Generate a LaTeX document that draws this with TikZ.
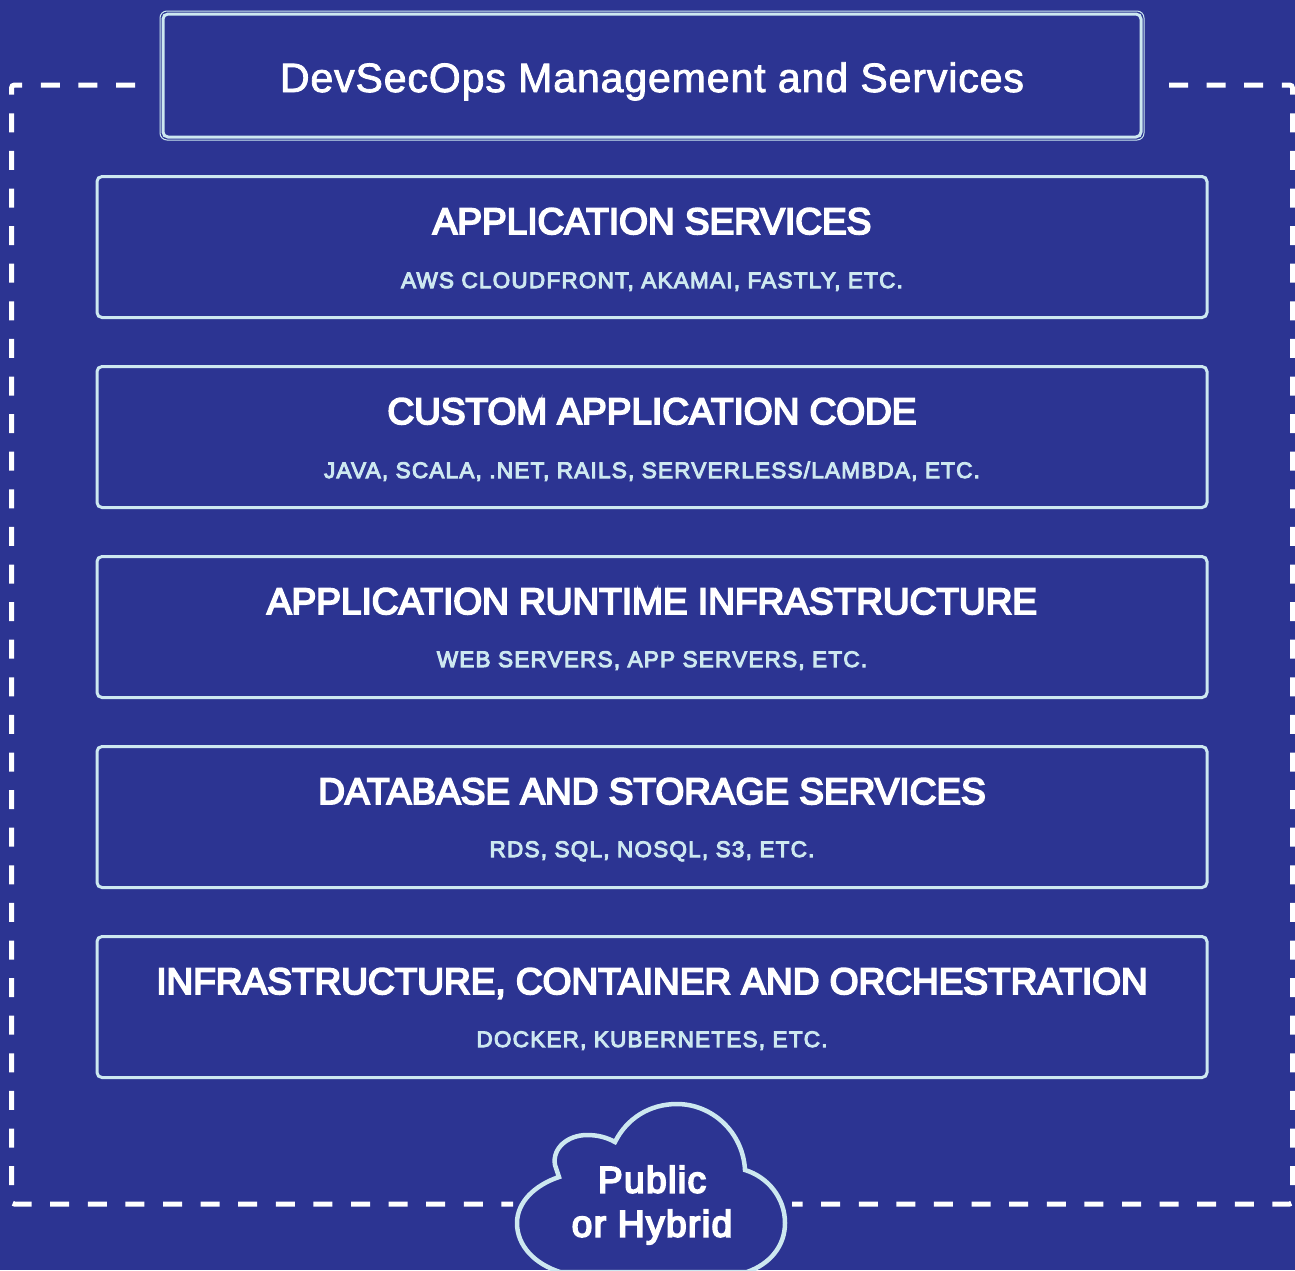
\documentclass[tikz,border=0pt]{standalone}
\usepackage{fontspec}
\setmainfont{Liberation Sans}
\newfontfamily\titlefont[FakeBold=5]{Liberation Sans}
\newfontfamily\cloudfont[FakeBold=5,LetterSpace=4]{Liberation Sans}
\newfontfamily\subfont[FakeBold=4.5,LetterSpace=5.5]{Liberation Sans}
\newfontfamily\mgmtfont[FakeBold=2,LetterSpace=2.2]{Liberation Sans}
\usepackage{tikz}
\definecolor{bgblue}{RGB}{44,52,146}
\definecolor{linepale}{RGB}{205,232,240}
\tikzset{
    layerbox/.style={draw=linepale, line width=3pt, rounded corners=5pt, minimum width=1110pt, minimum height=141pt, inner sep=0pt},
    layertitle/.style={text=white, font=\titlefont\fontsize{37}{37}\selectfont, inner sep=0pt, anchor=base},
    layersub/.style={text=linepale, font=\subfont\fontsize{22.5}{22.5}\selectfont, inner sep=0pt, anchor=base},
    boundary/.style={draw=white, line width=5pt, dash pattern=on 19pt off 18.6pt, rounded corners=3pt},
}
\begin{document}
\begin{tikzpicture}[x=1pt, y=-1pt]
    \fill [bgblue] (0,0) rectangle (1295,1270);
    \useasboundingbox (0,0) rectangle (1295,1270);

    \coordinate (topleft) at (135,85);
    \coordinate (cornernw) at (11.5,85);
    \coordinate (cornersw) at (11.5,1204);
    \coordinate (bottomleft) at (513,1204);
    \coordinate (topright) at (1169,85);
    \coordinate (cornerne) at (1292.5,85);
    \coordinate (cornerse) at (1292.5,1204);
    \coordinate (bottomright) at (792,1204);
    \draw [boundary] (topleft) -- (cornernw) -- (cornersw) -- (bottomleft);
    \draw [boundary] (topright) -- (cornerne) -- (cornerse) -- (bottomright);

    \node [draw=linepale, line width=1pt, rounded corners=7pt, minimum width=984pt, minimum height=129pt] (mgmtouter) at (652,75.5) {};
    \node [draw=linepale, line width=3pt, rounded corners=5pt, minimum width=978pt, minimum height=123pt] (mgmt) at (652,75.5) {};
    \node [text=white, font=\mgmtfont\fontsize{41}{41}\selectfont, inner sep=0pt, anchor=base] (mgmttext) at (652,92) {DevSecOps Management and Services};

    \node [layerbox] (services) at (652,247) {};
    \node [layerbox] (code) at (652,437) {};
    \node [layerbox] (runtime) at (652,627) {};
    \node [layerbox] (storage) at (652,817) {};
    \node [layerbox] (infra) at (652,1007) {};

    \node [layertitle] (servicestitle) at (652,234) {APPLICATION SERVICES};
    \node [layertitle] (codetitle) at (652,424) {CUSTOM APPLICATION CODE};
    \node [layertitle] (runtimetitle) at (652,614) {APPLICATION RUNTIME INFRASTRUCTURE};
    \node [layertitle] (storagetitle) at (652,804) {DATABASE AND STORAGE SERVICES};
    \node [layertitle] (infratitle) at (652,994) {INFRASTRUCTURE, CONTAINER AND ORCHESTRATION};

    \node [layersub] (servicessub) at (652,288) {AWS CLOUDFRONT, AKAMAI, FASTLY, ETC.};
    \node [layersub] (codesub) at (652,478) {JAVA, SCALA, .NET, RAILS, SERVERLESS/LAMBDA, ETC.};
    \node [layersub] (runtimesub) at (652,667) {WEB SERVERS, APP SERVERS, ETC.};
    \node [layersub] (storagesub) at (652,857) {RDS, SQL, NOSQL, S3, ETC.};
    \node [layersub] (infrasub) at (652,1047) {DOCKER, KUBERNETES, ETC.};

    \clip (0,0) rectangle (1295,1270);
    \draw [draw=linepale, line width=4.5pt, fill=bgblue] (559,1177)
        .. controls (535,1185) and (517,1202) .. (517,1223)
        .. controls (517,1246) and (535,1264) .. (560,1272)
        -- (747,1272)
        .. controls (770,1264) and (785,1246) .. (785,1223)
        .. controls (785,1198) and (768,1177) .. (745,1170)
        .. controls (743,1132) and (712,1104) .. (677,1104)
        .. controls (650,1104) and (627,1118) .. (615,1142)
        .. controls (606,1137) and (597,1135) .. (587,1135)
        .. controls (568,1135) and (552,1148) .. (555,1165)
        -- cycle;
    \node [text=white, font=\cloudfont\fontsize{37}{44}\selectfont, align=center, inner sep=0pt] (cloudtext) at (652,1205) {Public\\or Hybrid};
\end{tikzpicture}
\end{document}
